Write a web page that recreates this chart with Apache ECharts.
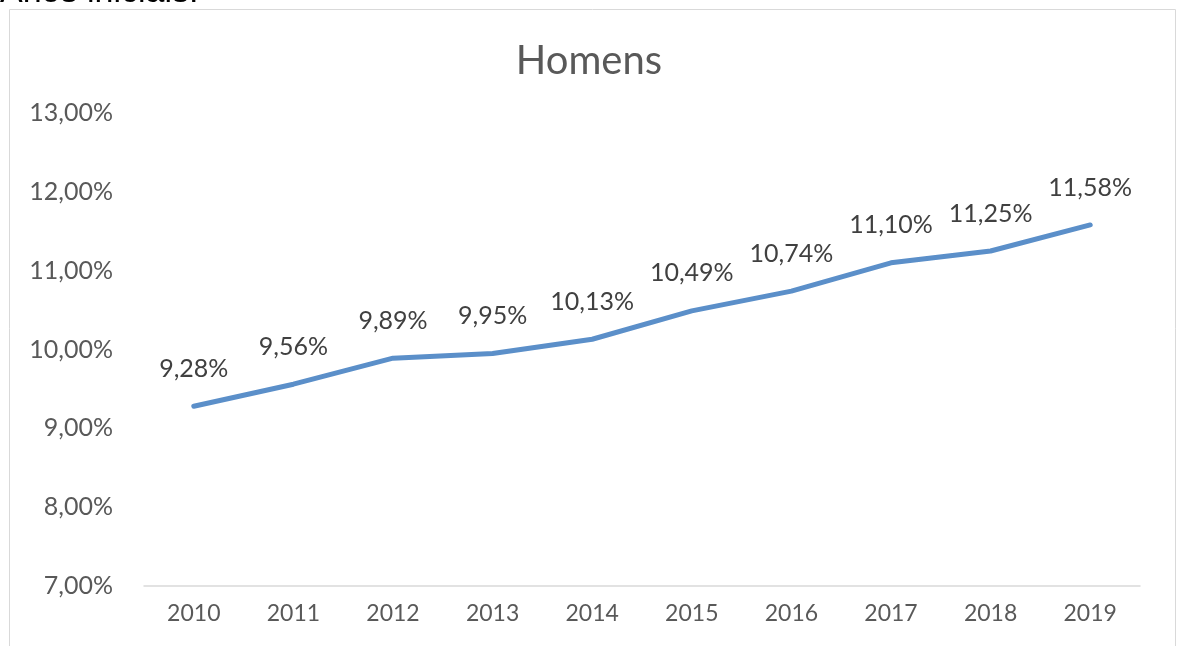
<!DOCTYPE html>
<html>
<head>
<meta charset="utf-8">
<script src="https://cdn.jsdelivr.net/npm/echarts@6/dist/echarts.min.js"></script>
<style>
  html, body { margin: 0; padding: 0; background: #fff; }
  #chart { width: 1178px; height: 646px; }
</style>
</head>
<body>
<div id="chart"></div>
<script>
    'use strict';

    var years = ['2010', '2011', '2012', '2013', '2014', '2015', '2016', '2017', '2018', '2019'];
    var homens = [9.28, 9.56, 9.89, 9.95, 10.13, 10.49, 10.74, 11.10, 11.25, 11.58];
    var yTicks = [7, 8, 9, 10, 11, 12, 13];

    function pct(v) {
        return v.toFixed(2).replace('.', ',') + '%';
    }

    var chart = echarts.init(document.getElementById('chart'));

    var option = {
        animation: false,
        textStyle: { fontFamily: 'Lato' },
        graphic: [
            {
                type: 'rect',
                shape: { x: 9.5, y: 9.5, width: 1166, height: 660 },
                style: { fill: 'none', stroke: '#d9d9d9', lineWidth: 1 }
            },
            {
                type: 'text',
                x: 0,
                y: 10,
                style: { text: 'Anos iniciais:', fill: '#000', font: '34px "Liberation Sans"', verticalAlign: 'bottom' }
            }
        ],
        title: {
            text: 'Homens',
            left: 'center',
            top: 36,
            textStyle: { color: '#595959', fontSize: 40, fontWeight: 'normal', fontFamily: 'Lato' }
        },
        grid: { left: 144, right: 38, top: 113, bottom: 60 },
        xAxis: {
            type: 'category',
            data: years,
            boundaryGap: true,
            axisLine: { lineStyle: { color: '#d9d9d9', width: 1.5 } },
            axisTick: { show: false },
            axisLabel: { color: '#595959', fontSize: 23, margin: 16 }
        },
        yAxis: {
            type: 'value',
            min: yTicks[0],
            max: yTicks[yTicks.length - 1],
            interval: 1,
            axisLine: { show: false },
            axisTick: { show: false },
            splitLine: { show: false },
            axisLabel: { color: '#595959', fontSize: 25, margin: 31, formatter: pct }
        },
        series: [{
            name: 'Homens',
            type: 'line',
            data: homens,
            symbol: 'circle',
            symbolSize: 2,
            itemStyle: { color: 'rgba(0,0,0,0)' },
            lineStyle: { color: '#5b8fc9', width: 5, cap: 'round' },
            label: {
                show: true,
                position: 'top',
                distance: 24,
                color: '#404040',
                fontSize: 25,
                formatter: function (p) { return pct(p.value); }
            }
        }]
    };

    chart.setOption(option);
</script>
</body>
</html>
